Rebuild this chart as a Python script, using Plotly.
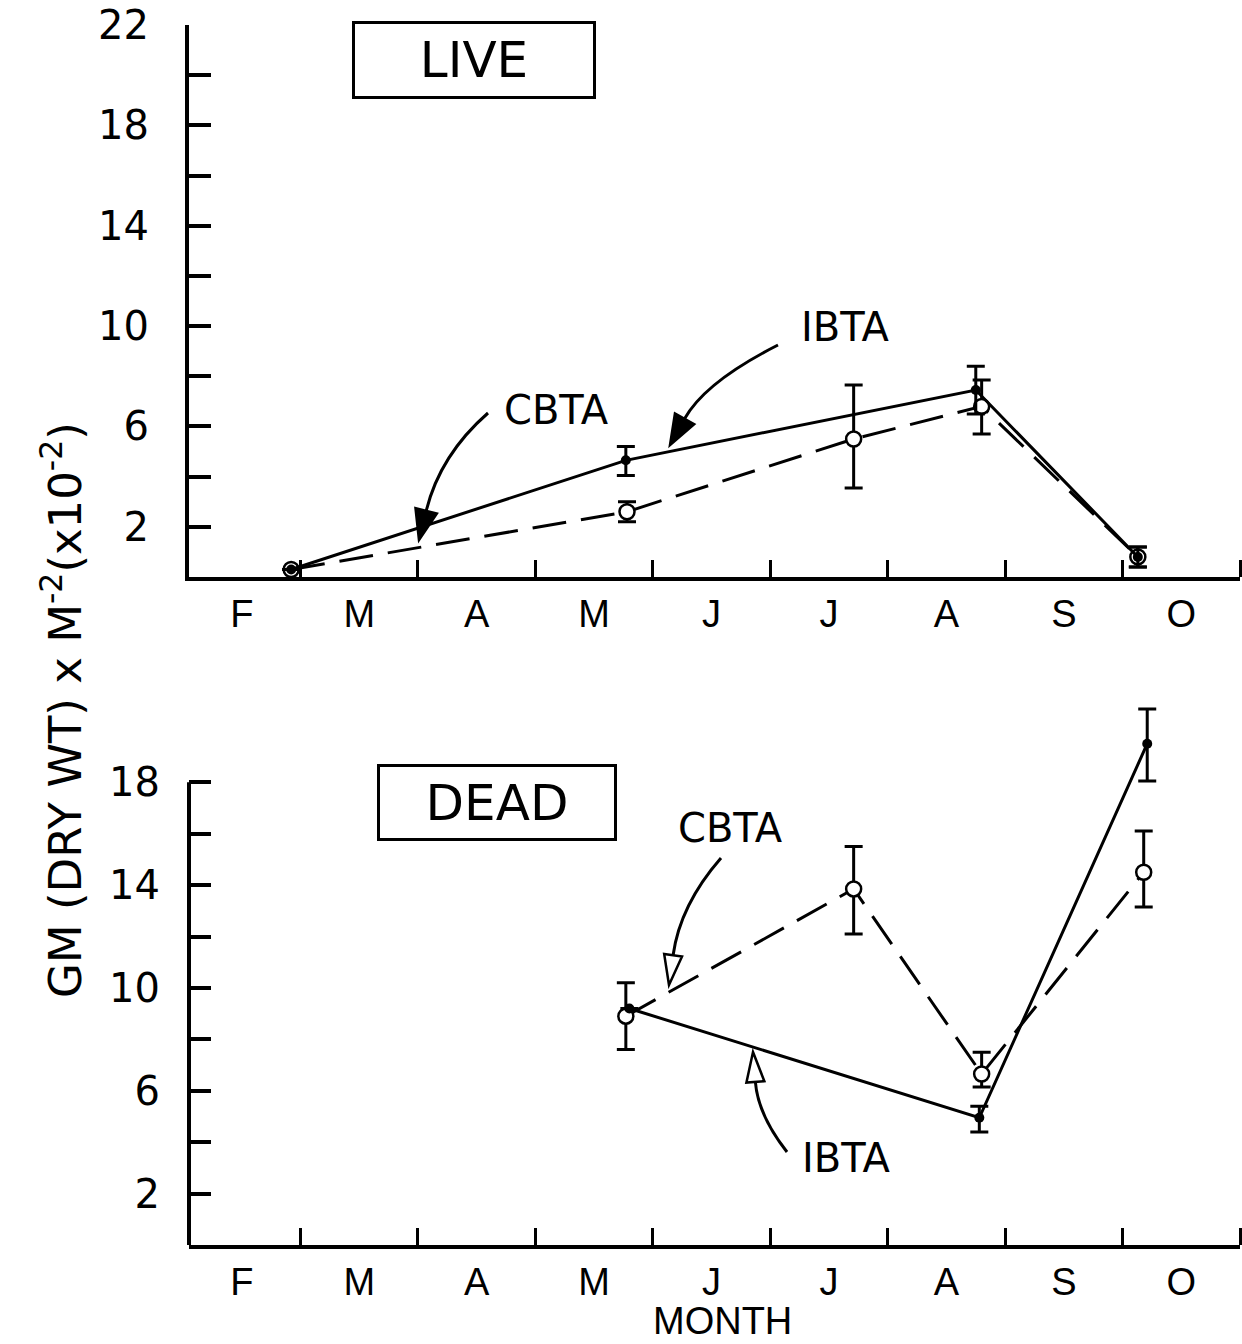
import math
import plotly.graph_objects as go

W, H = 1242, 1344
FONT = "DejaVu Sans"
FONT_MONTH = "Liberation Sans"

# ---------------- data ----------------
months = ["F", "M", "A", "M", "J", "J", "A", "S", "O"]
month_label_pos = [0.5, 1.5, 2.5, 3.5, 4.5, 5.5, 6.5, 7.5, 8.5]
month_bounds = [1, 2, 3, 4, 5, 6, 7, 8, 9]

y_major = [2, 6, 10, 14, 18, 22]
y_minor = [4, 8, 12, 16, 20]
y_major_dead = [2, 6, 10, 14, 18]
y_minor_dead = [4, 8, 12, 16]

# LIVE panel
live_cbta_x = [0.92, 3.78, 5.71, 6.80, 8.13]
live_cbta_y = [0.3, 2.6, 5.5, 6.8, 0.8]
live_cbta_up = [None, 0.4, 2.15, 1.05, 0.4]
live_cbta_dn = [None, 0.4, 1.95, 1.1, 0.4]

live_ibta_x = [0.92, 3.77, 6.75, 8.13]
live_ibta_y = [0.3, 4.65, 7.45, 0.8]
live_ibta_up = [None, 0.55, 0.95, 0.4]
live_ibta_dn = [None, 0.6, 0.95, 0.4]

# DEAD panel
dead_cbta_x = [3.77, 5.71, 6.80, 8.18]
dead_cbta_y = [8.9, 13.85, 6.65, 14.5]
dead_cbta_up = [1.3, 1.65, 0.85, 1.6]
dead_cbta_dn = [1.3, 1.75, 0.5, 1.35]

dead_ibta_x = [3.80, 6.78, 8.21]
dead_ibta_y = [9.2, 4.95, 19.5]
dead_ibta_up = [None, 0.45, 1.35]
dead_ibta_dn = [None, 0.55, 1.45]

# ---------------- figure ----------------
fig = go.Figure()


def cbta_trace(x, y, up, dn, xa, ya):
    return go.Scatter(
        x=x, y=y, xaxis=xa, yaxis=ya, mode="lines+markers",
        line=dict(color="black", width=3, dash="34px,15px"),
        marker=dict(symbol="circle", size=15, color="white",
                    line=dict(color="black", width=2.5)),
        error_y=dict(type="data", array=up, arrayminus=dn, symmetric=False,
                     color="black", thickness=3, width=9),
        showlegend=False, hoverinfo="skip",
    )


def ibta_trace(x, y, up, dn, xa, ya):
    return go.Scatter(
        x=x, y=y, xaxis=xa, yaxis=ya, mode="lines+markers",
        line=dict(color="black", width=3),
        marker=dict(symbol="circle", size=10, color="black"),
        error_y=dict(type="data", array=up, arrayminus=dn, symmetric=False,
                     color="black", thickness=3, width=9),
        showlegend=False, hoverinfo="skip",
    )


fig.add_trace(cbta_trace(live_cbta_x, live_cbta_y, live_cbta_up, live_cbta_dn, "x", "y"))
fig.add_trace(ibta_trace(live_ibta_x, live_ibta_y, live_ibta_up, live_ibta_dn, "x", "y"))
fig.add_trace(cbta_trace(dead_cbta_x, dead_cbta_y, dead_cbta_up, dead_cbta_dn, "x2", "y2"))
fig.add_trace(ibta_trace(dead_ibta_x, dead_ibta_y, dead_ibta_up, dead_ibta_dn, "x2", "y2"))

# ---------------- axes ----------------
x_dom = [189 / W, 1240 / W]
top_dom = [1 - 577 / H, 1 - 25 / H]
bot_dom = [1 - 1245 / H, 1 - 700 / H]

xaxis_common = dict(
    range=[0.05, 9.0], domain=x_dom, showgrid=False, zeroline=False,
    showline=True, linecolor="black", linewidth=4,
    tickmode="array", tickvals=month_label_pos, ticktext=months, ticks="",
    ticklabelstandoff=0,
    tickfont=dict(family=FONT_MONTH, size=38, color="black"),
    minor=dict(tickmode="array", tickvals=month_bounds, ticks="inside",
               ticklen=17, tickwidth=3, tickcolor="black", showgrid=False),
    automargin=False, fixedrange=True,
)

yaxis_common = dict(
    showgrid=False, zeroline=False, linecolor="black", linewidth=4,
    tickmode="array", ticks="inside", ticklen=22, tickwidth=4, tickcolor="black",
    ticklabelstandoff=28,
    tickfont=dict(family=FONT, size=40, color="black"),
    automargin=False, fixedrange=True,
)

fig.update_layout(
    xaxis=dict(**xaxis_common, anchor="y"),
    xaxis2=dict(**xaxis_common, anchor="y2"),
    yaxis=dict(**yaxis_common, range=[0, 22], domain=top_dom, anchor="x",
               showline=True, tickvals=y_major, ticktext=[str(v) for v in y_major],
               minor=dict(tickmode="array", tickvals=y_minor, ticks="inside",
                          ticklen=22, tickwidth=4, tickcolor="black", showgrid=False)),
    yaxis2=dict(**yaxis_common, range=[0, 21.2], domain=bot_dom, anchor="x2",
                showline=False, tickvals=y_major_dead, ticktext=[str(v) for v in y_major_dead],
                minor=dict(tickmode="array", tickvals=y_minor_dead, ticks="inside",
                           ticklen=22, tickwidth=4, tickcolor="black", showgrid=False)),
)

shapes = []
# bottom panel y-axis line runs only up to 18
shapes.append(dict(type="line", xref="x2 domain", yref="y2", x0=0, x1=0, y0=0, y1=18,
                   line=dict(color="black", width=4)))


def P(px, py):
    return px / W, 1 - py / H


def curve_arrow(start, ctrl, tip, head_len, head_w, filled):
    dx, dy = tip[0] - ctrl[0], tip[1] - ctrl[1]
    L = math.hypot(dx, dy)
    ux, uy = dx / L, dy / L
    bx, by = tip[0] - ux * head_len, tip[1] - uy * head_len
    nx, ny = -uy, ux
    lx, ly = bx + nx * head_w / 2, by + ny * head_w / 2
    rx, ry = bx - nx * head_w / 2, by - ny * head_w / 2
    s = P(*start); c = P(*ctrl); b = P(bx, by)
    path = f"M {s[0]},{s[1]} Q {c[0]},{c[1]} {b[0]},{b[1]}"
    t = P(*tip); l = P(lx, ly); r = P(rx, ry)
    head = f"M {t[0]},{t[1]} L {l[0]},{l[1]} L {r[0]},{r[1]} Z"
    return [
        dict(type="path", xref="paper", yref="paper", path=path,
             line=dict(color="black", width=3)),
        dict(type="path", xref="paper", yref="paper", path=head,
             fillcolor="black" if filled else "white",
             line=dict(color="black", width=2.5)),
    ]


shapes += curve_arrow((778, 345), (705, 382), (670, 445), 30, 22, True)     # top IBTA
shapes += curve_arrow((488, 413), (440, 455), (419, 540), 30, 22, True)     # top CBTA
shapes += curve_arrow((721, 858), (680, 905), (669, 985), 30, 18, False)    # bottom CBTA
shapes += curve_arrow((787, 1152), (758, 1115), (753, 1052), 30, 18, False)  # bottom IBTA

fig.update_layout(shapes=shapes)

annotations = []


def label(text, px, py, size=40, family=FONT, **kw):
    x, y = P(px, py)
    d = dict(text=text, x=x, y=y, xref="paper", yref="paper", showarrow=False,
             xanchor="center", yanchor="middle",
             font=dict(family=family, size=size, color="black"))
    d.update(kw)
    return d


annotations.append(label("LIVE", 474, 60, size=50, bordercolor="black", borderwidth=3,
                         borderpad=0, width=238, height=72))
annotations.append(label("DEAD", 497, 802, size=50, bordercolor="black", borderwidth=3,
                         borderpad=0, width=234, height=71))
annotations.append(label("IBTA", 845, 327))
annotations.append(label("CBTA", 556, 410))
annotations.append(label("CBTA", 731, 828))
annotations.append(label("IBTA", 846, 1158))
annotations.append(label("MONTH", 722, 1344, size=38, family=FONT_MONTH, yanchor="bottom"))
annotations.append(label("GM (DRY WT) x M<sup>-2</sup>(x10<sup>-2</sup>)", 62, 710,
                         size=45, textangle=-90))

fig.update_layout(
    annotations=annotations,
    width=W, height=H,
    margin=dict(l=0, r=0, t=0, b=0, pad=0, autoexpand=False),
    paper_bgcolor="white", plot_bgcolor="white",
    showlegend=False,
)

fig.write_html("out.html", config={"displayModeBar": False},
               post_script="document.body.style.margin='0';document.body.style.padding='0';")
